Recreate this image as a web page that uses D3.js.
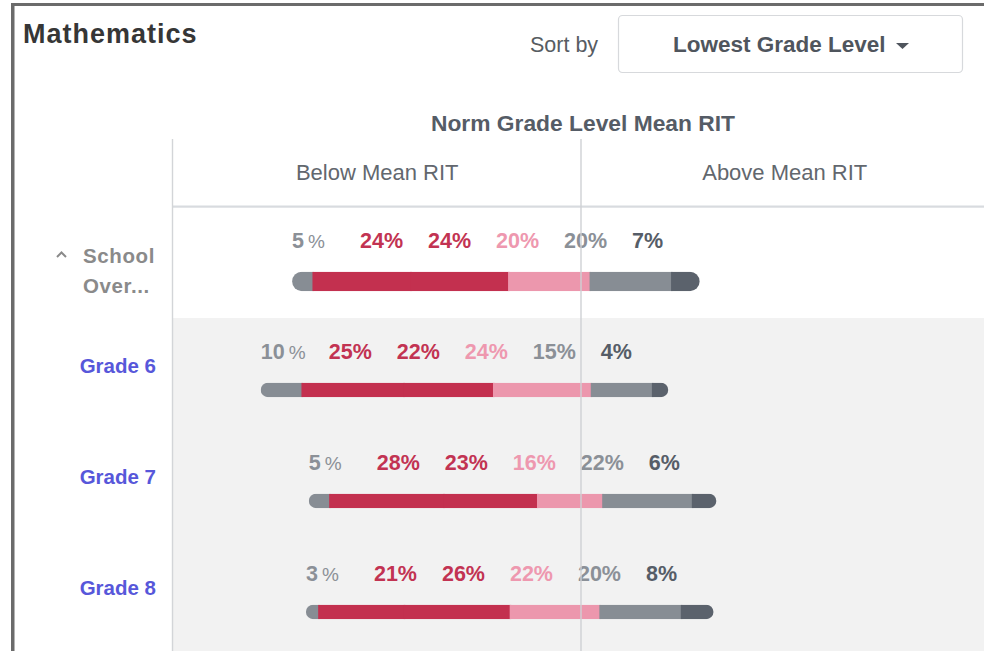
<!DOCTYPE html>
<html>
<head>
<meta charset="utf-8">
<script src="https://cdn.jsdelivr.net/npm/d3@7/dist/d3.min.js"></script>
<style>
  html, body { margin: 0; padding: 0; background: #ffffff; }
  svg { display: block; font-family: "Liberation Sans", Arial, Helvetica, sans-serif; }
</style>
</head>
<body>
<svg id="chart" width="984" height="651"></svg>
<script>
// Rows of the table
const categories = ["School Overall", "Grade 6", "Grade 7", "Grade 8"];
const rowLabelLines = [["School", "Over..."], ["Grade 6"], ["Grade 7"], ["Grade 8"]];

// Share of students in each achievement band, left to right (percent)
const schoolOverall = [5, 24, 24, 20, 20, 7];
const grade6 = [10, 25, 22, 24, 15, 4];
const grade7 = [5, 28, 23, 16, 22, 6];
const grade8 = [3, 21, 26, 22, 20, 8];
const bandValues = [schoolOverall, grade6, grade7, grade8];

// Percent of each row that sits below the norm grade level mean RIT
const belowMeanShare = [70.9, 78.6, 66.8, 67.5];

// Band styling
const bandColors = ["#878d94", "#c3304f", "#c3304f", "#ec97ad", "#878d94", "#5b626c"];
const labelColors = ["#8b9097", "#c23352", "#c23352", "#ee98af", "#8b9097", "#565d67"];

const svg = d3.select("#chart");
const W = 984, H = 651;

// Horizontal scale: percentage offset from the mean line
const x = d3.scaleLinear().domain([-100, 100]).range([173.5, 988.5]);
// Vertical scale: one band per table row
const y = d3.scaleBand().domain(categories).range([207, 651]).padding(0);

const tableLeft = 172.5;
const headerTop = 139;

// Outer frame (left and top edges)
svg.append("rect").attr("x", 11).attr("y", 3).attr("width", W - 11).attr("height", 3).attr("fill", "#6b6b6b");
svg.append("rect").attr("x", 11).attr("y", 3).attr("width", 3.5).attr("height", H - 3).attr("fill", "#6b6b6b");

// Title and sort control
svg.append("text").attr("x", 23).attr("y", 43)
  .attr("font-size", 27).attr("font-weight", "bold").attr("letter-spacing", 1)
  .attr("fill", "#363636").text("Mathematics");

svg.append("text").attr("x", 530).attr("y", 52)
  .attr("font-size", 21.5).attr("fill", "#575c62").text("Sort by");

svg.append("rect").attr("x", 618.5).attr("y", 15.5).attr("width", 344).attr("height", 57)
  .attr("rx", 4).attr("fill", "#ffffff").attr("stroke", "#d7d9dc").attr("stroke-width", 1.2);
svg.append("text").attr("x", 673).attr("y", 52)
  .attr("font-size", 22.5).attr("font-weight", "bold").attr("fill", "#4f555d").text("Lowest Grade Level");
svg.append("path").attr("d", "M896,43 L909,43 L902.5,49 Z").attr("fill", "#4f555d");

// Column headers
svg.append("text").attr("x", x(0) + 2).attr("y", 131).attr("text-anchor", "middle")
  .attr("font-size", 22.8).attr("font-weight", "bold").attr("fill", "#555c66")
  .text("Norm Grade Level Mean RIT");
svg.append("text").attr("x", x(-50)).attr("y", 180).attr("text-anchor", "middle")
  .attr("font-size", 22).attr("fill", "#62676e").text("Below Mean RIT");
svg.append("text").attr("x", x(50)).attr("y", 180).attr("text-anchor", "middle")
  .attr("font-size", 22).attr("fill", "#62676e").text("Above Mean RIT");

// Row backgrounds: summary row white, grade rows light grey
svg.append("g").selectAll("rect").data(categories).join("rect")
  .attr("x", tableLeft).attr("y", d => y(d))
  .attr("width", W - tableLeft).attr("height", y.bandwidth())
  .attr("fill", (d, i) => i === 0 ? "#ffffff" : "#f2f2f2");

// Header divider
svg.append("rect").attr("x", tableLeft).attr("y", 205.5).attr("width", W - tableLeft).attr("height", 2.2)
  .attr("fill", "#d8dbdf");

// Row labels
const labelG = svg.append("g");
categories.forEach((c, i) => {
  const top = y(c);
  if (i === 0) {
    labelG.append("path")
      .attr("d", `M57,${top + 50} L61.5,${top + 45.5} L66,${top + 50}`)
      .attr("fill", "none").attr("stroke", "#8a8a8a").attr("stroke-width", 2);
    rowLabelLines[i].forEach((line, j) => {
      labelG.append("text").attr("x", 83).attr("y", top + 56 + j * 30)
        .attr("font-size", 20.5).attr("font-weight", "bold").attr("letter-spacing", 0.6)
        .attr("fill", "#8a8a8a").text(line);
    });
  } else {
    labelG.append("text").attr("x", 156).attr("y", top + 55).attr("text-anchor", "end")
      .attr("font-size", 20.5).attr("font-weight", "bold").attr("fill", "#5757da")
      .text(rowLabelLines[i][0]);
  }
});

// Stacked bars with rounded ends
const labelStep = 68;
const defs = svg.append("defs");
const barsG = svg.append("g");
categories.forEach((c, i) => {
  const vals = bandValues[i];
  const start = -belowMeanShare[i];
  const total = d3.sum(vals);
  const barH = i === 0 ? 19.5 : 14.5;
  const barY = y(c) + 64.7;
  const clipId = "clip-row-" + i;
  defs.append("clipPath").attr("id", clipId).append("rect")
    .attr("x", x(start)).attr("y", barY)
    .attr("width", x(start + total) - x(start)).attr("height", barH)
    .attr("rx", barH / 2).attr("ry", barH / 2);

  const cum = [0, ...d3.cumsum(vals)];
  const segs = vals.map((v, k) => ({ v, k, x0: start + cum[k], x1: start + cum[k + 1] }));
  // each segment overlaps the next slightly so no seam shows between equal colours
  barsG.append("g").attr("clip-path", `url(#${clipId})`)
    .selectAll("rect").data(segs).join("rect")
    .attr("x", d => x(d.x0)).attr("y", barY)
    .attr("width", d => x(d.x1) - x(d.x0) + 1.5).attr("height", barH)
    .attr("fill", d => bandColors[d.k]);

  // Percent labels above the bar
  const txt = barsG.append("g").selectAll("text").data(segs).join("text")
    .attr("x", d => x(start) + d.k * labelStep)
    .attr("y", y(c) + 41)
    .attr("font-size", 21.5).attr("font-weight", "bold")
    .attr("fill", d => labelColors[d.k]);
  txt.append("tspan").text(d => d.v);
  txt.append("tspan")
    .attr("dx", d => d.k === 0 ? 4 : 0)
    .attr("font-weight", d => d.k === 0 ? "normal" : "bold")
    .attr("font-size", d => d.k === 0 ? 19 : 21.5)
    .text("%");
});

// Vertical rules: table edge and mean line (drawn on top)
svg.append("line").attr("x1", tableLeft).attr("x2", tableLeft).attr("y1", headerTop).attr("y2", H)
  .attr("stroke", "#d3d5d8").attr("stroke-width", 1.4);
svg.append("line").attr("x1", x(0)).attr("x2", x(0)).attr("y1", headerTop).attr("y2", H)
  .attr("stroke", "#cfd1d4").attr("stroke-width", 1.4);
</script>
</body>
</html>
